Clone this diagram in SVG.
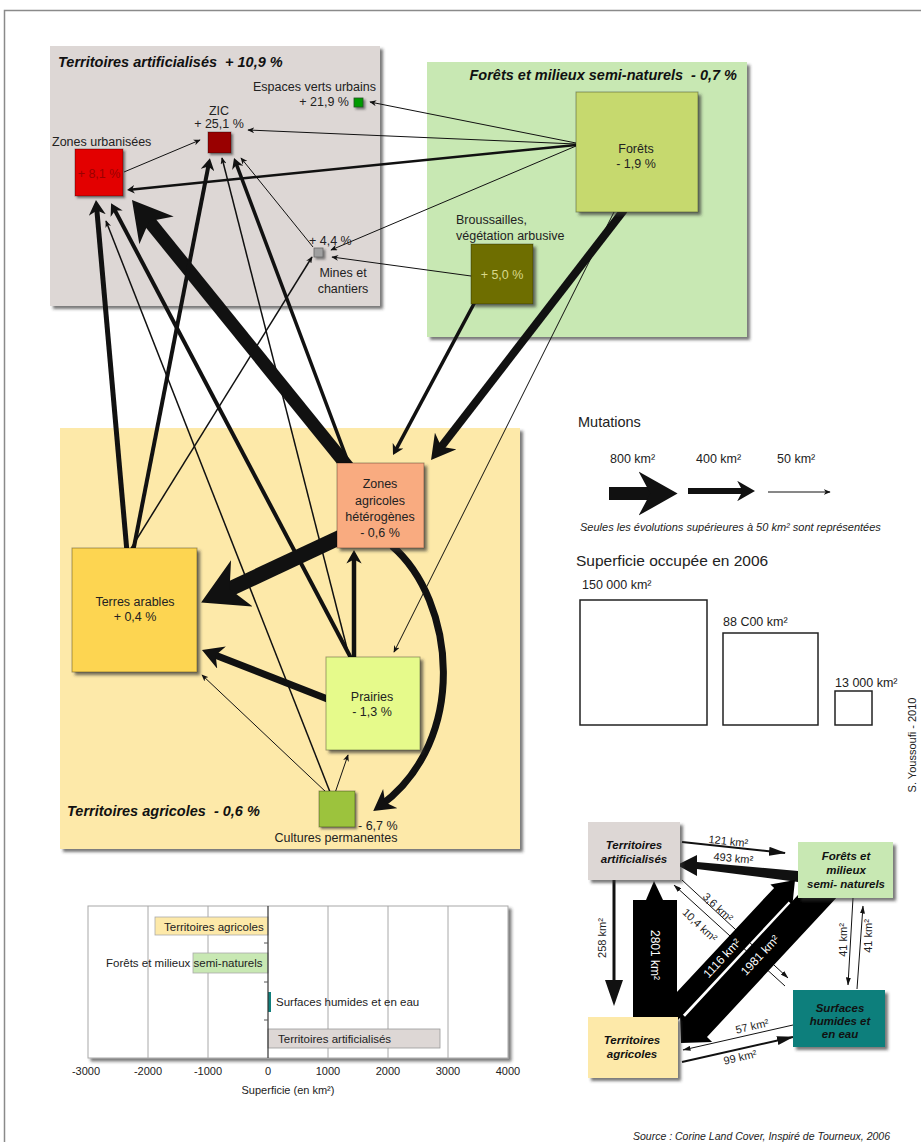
<svg xmlns="http://www.w3.org/2000/svg" width="921" height="1142" viewBox="0 0 921 1142">
<style>
text{font-family:"Liberation Sans",Arial,Helvetica,sans-serif;fill:#222}
.l{font-size:12.5px}
.s{font-size:11px}
.ttl{font-size:14.5px;font-weight:bold;font-style:italic;fill:#111}
.m{text-anchor:middle}
.e{text-anchor:end}
.k{stroke:#111;fill:none}
.th{marker-end:url(#as)}
.tk{marker-end:url(#ah)}
.nd{stroke:rgba(0,0,0,0.35);stroke-width:1}
.fb{font-size:11.5px;font-weight:bold;font-style:italic;fill:#111}
.w{fill:#fff;font-size:12px}
.gr{stroke:#a8a8a8;stroke-width:1}
.fl{stroke:#111;fill:none}
</style>
<defs>
<marker id="ah" viewBox="0 0 10 10" refX="6" refY="5" markerWidth="3" markerHeight="3.4" markerUnits="strokeWidth" orient="auto" preserveAspectRatio="none"><path d="M0,0 L10,5 L0,10 L3,5 z" fill="#111"/></marker>
<marker id="as" viewBox="0 0 10 10" refX="9" refY="5" markerWidth="7" markerHeight="6" markerUnits="userSpaceOnUse" orient="auto" preserveAspectRatio="none"><path d="M0,0 L10,5 L0,10 L3,5 z" fill="#111"/></marker>
<marker id="af" viewBox="0 0 17 9" refX="16" refY="4.5" markerWidth="17" markerHeight="9" markerUnits="userSpaceOnUse" orient="auto"><path d="M0,0 L17,4.5 L0,9 z" fill="#111"/></marker>
<marker id="afs" viewBox="0 0 8 5" refX="7.5" refY="2.5" markerWidth="8" markerHeight="5" markerUnits="userSpaceOnUse" orient="auto"><path d="M0,0 L8,2.5 L0,5 z" fill="#111"/></marker>
<filter id="sh" x="-10%" y="-10%" width="130%" height="130%"><feDropShadow dx="3" dy="3" stdDeviation="1.8" flood-color="#333" flood-opacity="0.65"/></filter>
<filter id="shs" x="-50%" y="-50%" width="250%" height="250%"><feDropShadow dx="2" dy="2" stdDeviation="1.2" flood-color="#333" flood-opacity="0.6"/></filter>
</defs>

<rect x="4.5" y="10.5" width="930" height="1140" fill="#fff" stroke="#8a8a8a" stroke-width="1.5"/>

<g id="region-artificialises">
<rect x="50" y="46" width="330" height="260" fill="#ddd7d5" filter="url(#sh)"/>
<text class="ttl" x="58" y="67">Territoires artificialisés<tspan dx="8">+ 10,9 %</tspan></text>
</g>
<g id="region-forets">
<rect x="427" y="62" width="320" height="275" fill="#c8e8b3" filter="url(#sh)"/>
<text class="ttl e" x="737" y="80">Forêts et milieux semi-naturels<tspan dx="8">- 0,7 %</tspan></text>
</g>
<g id="region-agricoles">
<rect x="60" y="428" width="460" height="421" fill="#fde9a9" filter="url(#sh)"/>
<text class="ttl" x="67" y="816">Territoires agricoles<tspan dx="8">- 0,6 %</tspan></text>
</g>

<g id="connectors">
<line class="k th" x1="576" y1="143" x2="370" y2="102" stroke-width="1"/>
<line class="k th" x1="576" y1="144" x2="248" y2="130" stroke-width="1"/>
<line class="k tk" x1="576" y1="145" x2="130" y2="189.7" stroke-width="2.5"/>
<line class="k th" x1="576" y1="146" x2="331" y2="250" stroke-width="1"/>
<line class="k th" x1="471" y1="276" x2="332" y2="257" stroke-width="1"/>
<line class="k th" x1="124" y1="172" x2="200" y2="140" stroke-width="1"/>
<line class="k th" x1="313" y1="247" x2="241" y2="158" stroke-width="1"/>
<line class="k th" x1="330" y1="792" x2="106" y2="221" stroke-width="1.5"/>
<line class="k th" x1="350" y1="660" x2="222" y2="158" stroke-width="1.5"/>
<line class="k th" x1="130" y1="550" x2="312" y2="257" stroke-width="1.5"/>
<line class="k th" x1="615" y1="210" x2="394" y2="652" stroke-width="1"/>
<line class="k th" x1="327" y1="793" x2="202" y2="675" stroke-width="1"/>
<line class="k th" x1="335" y1="793" x2="348" y2="755" stroke-width="1"/>
<line class="k tk" x1="127" y1="552" x2="96.5" y2="206" stroke-width="5"/>
<line class="k tk" x1="352" y1="660" x2="113.3" y2="207.4" stroke-width="4"/>
<line class="k tk" x1="348" y1="467" x2="141.8" y2="212.1" stroke-width="13"/>
<line class="k tk" x1="133" y1="552" x2="209" y2="162.9" stroke-width="4"/>
<line class="k tk" x1="350" y1="467" x2="235.5" y2="161.9" stroke-width="3.5"/>
<line class="k tk" x1="624" y1="210" x2="436.9" y2="452.4" stroke-width="8"/>
<line class="k tk" x1="476" y1="300" x2="395" y2="451.3" stroke-width="3.5"/>
<line class="k tk" x1="345" y1="535" x2="217.4" y2="594.8" stroke-width="15"/>
<line class="k tk" x1="330" y1="700" x2="209.8" y2="653" stroke-width="7"/>
<line class="k tk" x1="354" y1="660" x2="354" y2="555.4" stroke-width="4.5"/>
<path class="k tk" d="M392,546 C455,600 470,740 380,806" stroke-width="7"/>
</g>

<g id="node-zones-urbanisees">
<text class="l" x="52" y="146">Zones urbanisées</text>
<rect x="75" y="149" width="48" height="47" fill="#e30000" class="nd" filter="url(#shs)"/>
<text class="l m" x="99" y="178" fill="#9a0000" style="fill:#9a0000">+ 8,1 %</text>
</g>
<g id="node-zic">
<text class="l m" x="219" y="115">ZIC</text>
<text class="l m" x="219" y="128">+ 25,1 %</text>
<rect x="208" y="132" width="23" height="21" fill="#990000" class="nd" filter="url(#shs)"/>
</g>
<g id="node-espaces-verts">
<text class="l e" x="376" y="91">Espaces verts urbains</text>
<text class="l e" x="349" y="106">+ 21,9 %</text>
<rect x="354" y="98" width="9" height="9" fill="#009a00" stroke="#225522" stroke-width="0.8" filter="url(#shs)"/>
</g>
<g id="node-mines">
<text class="l" x="309" y="245">+ 4,4 %</text>
<rect x="314" y="248" width="9" height="9" fill="#a0a0a0" stroke="#666" stroke-width="0.8" filter="url(#shs)"/>
<text class="l m" x="343" y="277">Mines et</text>
<text class="l m" x="343" y="293">chantiers</text>
</g>
<g id="node-forets">
<rect x="576" y="92" width="122" height="120" fill="#c6d96e" class="nd" filter="url(#sh)"/>
<text class="l m" x="636" y="153">Forêts</text>
<text class="l m" x="636" y="168">- 1,9 %</text>
</g>
<g id="node-broussailles">
<text class="l" x="456" y="224">Broussailles,</text>
<text class="l" x="456" y="240">végétation arbusive</text>
<rect x="471" y="244" width="62" height="60" fill="#6e6e00" class="nd" filter="url(#sh)"/>
<text class="l m" x="502" y="279" style="fill:#d9d98a">+ 5,0 %</text>
</g>
<g id="node-zones-agricoles-heterogenes">
<rect x="337" y="463" width="87" height="85" fill="#f9ab80" class="nd" filter="url(#sh)"/>
<text class="l m" x="380" y="488">Zones</text>
<text class="l m" x="380" y="505">agricoles</text>
<text class="l m" x="380" y="521">hétérogènes</text>
<text class="l m" x="380" y="537">- 0,6 %</text>
</g>
<g id="node-terres-arables">
<rect x="72" y="548" width="125" height="124" fill="#fdd551" class="nd" filter="url(#sh)"/>
<text class="l m" x="135" y="606">Terres arables</text>
<text class="l m" x="135" y="621">+ 0,4 %</text>
</g>
<g id="node-prairies">
<rect x="326" y="657" width="94" height="93" fill="#e6fa8b" class="nd" filter="url(#sh)"/>
<text class="l m" x="372" y="701">Prairies</text>
<text class="l m" x="372" y="716">- 1,3 %</text>
</g>
<g id="node-cultures-permanentes">
<rect x="319" y="791" width="36" height="36" fill="#9cc33c" class="nd" filter="url(#shs)"/>
<text class="l" x="358" y="830">- 6,7 %</text>
<text class="l m" x="336" y="842">Cultures permanentes</text>
</g>

<g id="legend">
<text x="578" y="427" style="font-size:14.5px">Mutations</text>
<text class="l" x="610" y="463">800 km²</text>
<text class="l" x="696" y="463">400 km²</text>
<text class="l" x="777" y="463">50 km²</text>
<line class="k tk" x1="609" y1="493.5" x2="662" y2="493.5" stroke-width="13"/>
<line class="k tk" x1="688" y1="491" x2="748" y2="491" stroke-width="6"/>
<line class="k th" x1="768" y1="492" x2="830" y2="492" stroke-width="1"/>
<text x="580" y="531" style="font-size:11px;font-style:italic">Seules les évolutions supérieures à 50 km² sont représentées</text>
<text x="576" y="566" style="font-size:15.5px">Superficie occupée en 2006</text>
<text x="582" y="589" style="font-size:12.5px">150 000 km²</text>
<rect x="580" y="600" width="127" height="125" fill="none" stroke="#222" stroke-width="1.5"/>
<text x="723" y="626" style="font-size:12.5px">88 C00 km²</text>
<rect x="723" y="633" width="95" height="92" fill="none" stroke="#222" stroke-width="1.5"/>
<text x="835" y="687" style="font-size:12.5px">13 000 km²</text>
<rect x="835" y="691" width="37" height="34" fill="none" stroke="#222" stroke-width="1.5"/>
</g>

<text x="916" y="745" class="s m" transform="rotate(-90 916 745)">S. Youssoufi - 2010</text>

<g id="flow-diagram">
<g id="flow-connectors">
<line class="fl" x1="682" y1="880" x2="788" y2="978" stroke-width="1" marker-end="url(#afs)"/>
<line class="fl" x1="785" y1="986" x2="674" y2="885" stroke-width="1" marker-end="url(#afs)"/>
<line class="fl" x1="853" y1="898" x2="848" y2="985" stroke-width="1" marker-end="url(#afs)"/>
<line class="fl" x1="857" y1="989" x2="863" y2="906" stroke-width="1" marker-end="url(#afs)"/>
<line class="fl" x1="682" y1="842" x2="785" y2="853" stroke-width="2" marker-end="url(#af)"/>
<line class="fl" x1="793" y1="1025" x2="683" y2="1050" stroke-width="1" marker-end="url(#afs)"/>
<line class="fl" x1="682" y1="1062" x2="793" y2="1037" stroke-width="2" marker-end="url(#af)"/>
<polygon points="798,871 697,862 697,855 677,865 697,876 697,869 798,882" fill="#111"/>
<line class="fl" x1="614" y1="880" x2="614" y2="985" stroke-width="3"/>
<polygon points="605,980 623,980 614,1006" fill="#111"/>
<rect x="633" y="900" width="44" height="117" fill="#000"/>
<polygon points="646,900 654,881 663,900" fill="#000"/>
<polygon points="677.3,1020.8 788.7,901.5 792.4,904.9 795,880 770.4,884.5 774.1,887.9 662.7,1007.2" fill="#000"/>
<polygon points="839,894.9 707,1037.1 712.1,1041.9 681,1043 679.9,1011.9 685,1016.7 817,874.5" fill="#000"/>
</g>
<g id="flow-node-artificialises">
<rect x="588" y="822" width="92" height="58" fill="#ddd7d5" filter="url(#sh)"/>
<text class="fb m" x="634" y="849">Territoires</text>
<text class="fb m" x="634" y="863">artificialisés</text>
</g>
<g id="flow-node-forets">
<rect x="798" y="842" width="95" height="56" fill="#c8e8b3" filter="url(#sh)"/>
<text class="fb m" x="846" y="860">Forêts et</text>
<text class="fb m" x="846" y="874">milieux</text>
<text class="fb m" x="846" y="888">semi- naturels</text>
</g>
<g id="flow-node-surfaces">
<rect x="793" y="990" width="92" height="57" fill="#117f7c" filter="url(#sh)"/>
<text class="fb m" x="840" y="1012">Surfaces</text>
<text class="fb m" x="840" y="1025">humides et</text>
<text class="fb m" x="840" y="1038">en eau</text>
</g>
<g id="flow-node-agricoles">
<rect x="588" y="1017" width="90" height="61" fill="#fde9a9" filter="url(#sh)"/>
<text class="fb m" x="632" y="1044">Territoires</text>
<text class="fb m" x="632" y="1058">agricoles</text>
</g>
<g id="flow-labels">
<text class="s m" x="728" y="845" transform="rotate(6 728 845)">121 km²</text>
<text class="s m" x="733" y="862" transform="rotate(5 733 862)">493 km²</text>
<text class="s m" x="606" y="938" transform="rotate(-90 606 938)">258 km²</text>
<text class="w m" x="651" y="955" transform="rotate(90 651 955)">2801 km²</text>
<text class="s m" x="715.3" y="909.9" transform="rotate(43 715.3 909.9)">3,6 km²</text>
<text class="s m" x="697.3" y="927.9" transform="rotate(43 697.3 927.9)">10,4 km²</text>
<text class="w m" x="725" y="961" transform="rotate(-47 725 961)">1116 km²</text>
<text class="w m" x="763" y="958" transform="rotate(-47 763 958)">1981 km²</text>
<text class="s m" x="847" y="940" transform="rotate(-90 847 940)">41 km²</text>
<text class="s m" x="872" y="936" transform="rotate(-90 872 936)">41 km²</text>
<text class="s m" x="753" y="1030" transform="rotate(-12.8 753 1030)">57 km²</text>
<text class="s m" x="741" y="1061" transform="rotate(-12.8 741 1061)">99 km²</text>
</g>
</g>

<g id="bar-chart">
<rect x="88" y="906" width="420" height="152" fill="#fff" stroke="#a8a8a8" stroke-width="1" filter="url(#sh)"/>
<line class="gr" x1="148" y1="906" x2="148" y2="1058"/>
<line class="gr" x1="208" y1="906" x2="208" y2="1058"/>
<line class="gr" x1="328" y1="906" x2="328" y2="1058"/>
<line class="gr" x1="388" y1="906" x2="388" y2="1058"/>
<line class="gr" x1="448" y1="906" x2="448" y2="1058"/>
<rect x="155" y="917" width="113" height="18" fill="#fde9a9" stroke="#aaa" stroke-width="0.8"/>
<rect x="193" y="953" width="75" height="20" fill="#c8e8b3" stroke="#aaa" stroke-width="0.8"/>
<rect x="268" y="992" width="3" height="20" fill="#117f7c"/>
<rect x="268" y="1029" width="172" height="19" fill="#ddd7d5" stroke="#999" stroke-width="0.8"/>
<line x1="268" y1="906" x2="268" y2="1058" stroke="#333" stroke-width="1.2"/>
<line x1="264" y1="943" x2="268" y2="943" stroke="#555"/>
<line x1="264" y1="982" x2="268" y2="982" stroke="#555"/>
<line x1="264" y1="1020" x2="268" y2="1020" stroke="#555"/>
<text x="164" y="931" style="font-size:11.5px">Territoires agricoles</text>
<text x="106" y="967" style="font-size:11.5px">Forêts et milieux semi-naturels</text>
<text x="276" y="1006" style="font-size:11.5px">Surfaces humides et en eau</text>
<text x="278" y="1043" style="font-size:11.5px">Territoires artificialisés</text>
<text class="s m" x="86" y="1075">-3000</text>
<text class="s m" x="148" y="1075">-2000</text>
<text class="s m" x="208" y="1075">-1000</text>
<text class="s m" x="268" y="1075">0</text>
<text class="s m" x="328" y="1075">1000</text>
<text class="s m" x="388" y="1075">2000</text>
<text class="s m" x="448" y="1075">3000</text>
<text class="s m" x="508" y="1075">4000</text>
<text class="s m" x="288" y="1094">Superficie (en km²)</text>
</g>

<text x="633" y="1140" style="font-size:10.5px;font-style:italic">Source : Corine Land Cover, Inspiré de Tourneux, 2006</text>
</svg>
